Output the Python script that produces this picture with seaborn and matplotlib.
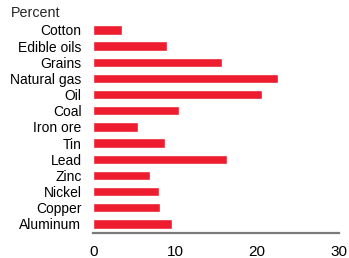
import pandas as pd
import matplotlib.pyplot as plt
import seaborn as sns

categories = ['Cotton', 'Edible oils', 'Grains', 'Natural gas', 'Oil', 'Coal',
              'Iron ore', 'Tin', 'Lead', 'Zinc', 'Nickel', 'Copper', 'Aluminum']
values = [3.5, 9.0, 15.7, 22.6, 20.6, 10.5, 5.5, 8.8, 16.3, 6.9, 8.05, 8.1, 9.6]
xticks = [0, 10, 20, 30]

sns.set_style('white')
plt.rcParams['font.family'] = ['Liberation Sans', 'DejaVu Sans']

df = pd.DataFrame({'name': categories, 'pct': values})

fig = plt.figure(figsize=(3.49, 2.58), dpi=100)
ax = fig.add_axes([0.267, 0.097, 0.704, 0.822])

sns.barplot(data=df, x='pct', y='name', order=categories, color='#ED1C2E',
            saturation=1, width=0.58, ax=ax)

ax.set_xlim(0, 30)
ax.set_ylim(12.56, -0.56)
ax.set_xticks(xticks)
ax.set_xlabel('')
ax.set_ylabel('')

for s in ['top', 'right', 'left']:
    ax.spines[s].set_visible(False)
ax.spines['bottom'].set_color('#7a7a7a')
ax.spines['bottom'].set_linewidth(1.6)

ax.tick_params(axis='x', length=0, pad=8.5, labelsize=11, colors='black')
ax.tick_params(axis='y', length=0, pad=8.5, labelsize=10, colors='black')

fig.text(11 / 349, 1 - 13 / 258, 'Percent', fontsize=10.3, va='center', ha='left')

plt.savefig('out.png', dpi=100)
